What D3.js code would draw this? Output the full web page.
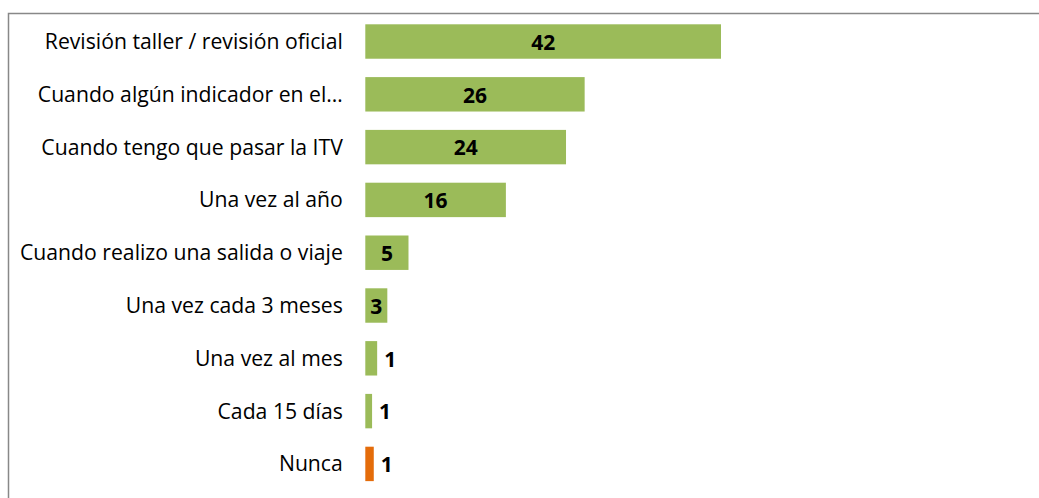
<!DOCTYPE html>
<html>
<head>
<meta charset="utf-8">
<script src="https://cdn.jsdelivr.net/npm/d3@7"></script>
<style>
  html, body { margin: 0; padding: 0; background: #fff; overflow: hidden; }
  svg { display: block; }
</style>
</head>
<body>
<svg id="chart" width="1039" height="498"></svg>
<script>
const categories = [
  "Revisión taller / revisión oficial",
  "Cuando algún indicador en el…",
  "Cuando tengo que pasar la ITV",
  "Una vez al año",
  "Cuando realizo una salida o viaje",
  "Una vez cada 3 meses",
  "Una vez al mes",
  "Cada 15 días",
  "Nunca"
];
const values = [42, 25.9, 23.7, 16.6, 5.1, 2.6, 1.4, 0.8, 1.0];
const valueLabels = ["42", "26", "24", "16", "5", "3", "1", "1", "1"];
const barColors = ["#9BBB59", "#9BBB59", "#9BBB59", "#9BBB59", "#9BBB59", "#9BBB59", "#9BBB59", "#9BBB59", "#E46C0A"];

const svg = d3.select("#chart");
const FONT = "'Open Sans', sans-serif";

// frame
svg.append("rect")
  .attr("x", 8.5).attr("y", 13.5)
  .attr("width", 1100).attr("height", 600)
  .attr("fill", "none").attr("stroke", "#888").attr("stroke-width", 1.5);

const x0 = 365.3;
const x = d3.scaleLinear().domain([0, 42]).range([x0, 721]);
const step = 52.8, pad = 0.348;
const yStart = 24.3 - step * pad / 2;
const y = d3.scaleBand().domain(categories)
  .range([yStart, yStart + step * categories.length])
  .paddingInner(pad).paddingOuter(pad / 2);

const data = categories.map((c, i) => ({ c, v: values[i], l: valueLabels[i], col: barColors[i] }));

svg.append("g").selectAll("rect").data(data).join("rect")
  .attr("x", x(0))
  .attr("y", d => y(d.c))
  .attr("width", d => x(d.v) - x(0))
  .attr("height", y.bandwidth())
  .attr("fill", d => d.col);

// category labels (axis)
const axis = d3.axisLeft(y).tickSize(0).tickPadding(0);
const gAxis = svg.append("g").attr("transform", `translate(${x0 - 22.5},0)`).call(axis);
gAxis.select(".domain").remove();
gAxis.selectAll("text")
  .attr("font-family", FONT)
  .attr("font-size", 21.2)
  .attr("fill", "#000")
  .attr("dy", "0.35em");

// value labels
svg.append("g").selectAll("text").data(data).join("text")
  .attr("x", d => (x(d.v) - x(0)) > 15 ? (x(0) + x(d.v)) / 2 : x(d.v) + 7)
  .attr("y", d => y(d.c) + y.bandwidth() / 2 + 1)
  .attr("text-anchor", d => (x(d.v) - x(0)) > 15 ? "middle" : "start")
  .attr("dy", "0.35em")
  .attr("font-family", FONT)
  .attr("font-weight", "bold")
  .attr("font-size", 21)
  .attr("fill", "#000")
  .text(d => d.l);
</script>
</body>
</html>
